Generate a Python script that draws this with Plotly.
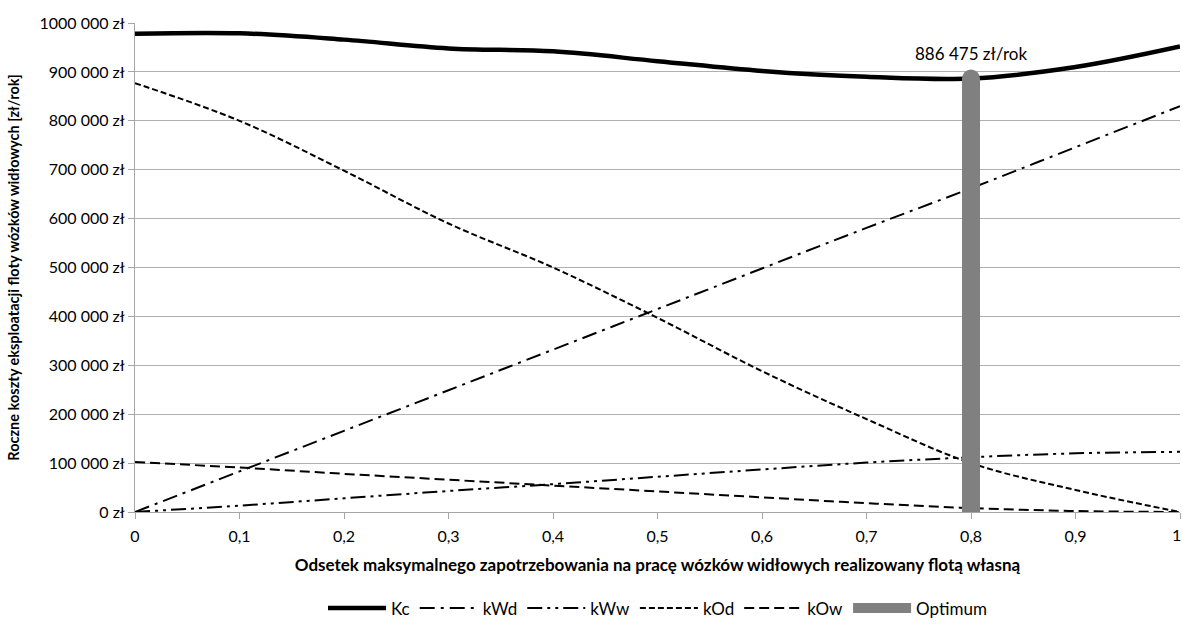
import plotly.graph_objects as go

x = [0, 0.1, 0.2, 0.3, 0.4, 0.5, 0.6, 0.7, 0.8, 0.9, 1.0]
Kc = [978000, 979000, 966000, 948000, 942000, 922000, 902000, 890000, 886475, 910000, 952000]
kWd = [0, 83000, 166000, 249000, 332000, 415000, 498000, 581000, 662000, 746000, 830000]
kWw = [0, 13000, 28000, 43000, 57000, 72000, 87000, 101000, 112000, 120000, 123000]
kOd = [877000, 800000, 698000, 590000, 500000, 397000, 288000, 190000, 100000, 45000, 0]
kOw = [102000, 91000, 78000, 66000, 54000, 42000, 30000, 18000, 8000, 2000, 0]
opt_x = [0.8, 0.8]
opt_y = [0, 886475]
opt_label = "886 475 zł/rok"

yticks = [0, 100000, 200000, 300000, 400000, 500000, 600000, 700000, 800000, 900000, 1000000]
ytext = ["0 zł", "100 000 zł", "200 000 zł", "300 000 zł", "400 000 zł", "500 000 zł",
         "600 000 zł", "700 000 zł", "800 000 zł", "900 000 zł", "1000 000 zł"]
xticks = [0, 0.1, 0.2, 0.3, 0.4, 0.5, 0.6, 0.7, 0.8, 0.9, 1.0]
xtext = ["0", "0,1", "0,2", "0,3", "0,4", "0,5", "0,6", "0,7", "0,8", "0,9", "1"]

FONT = "Lato"
fig = go.Figure()
fig.add_trace(go.Scatter(x=x, y=Kc, name="Kc", mode="lines",
                         line=dict(color="black", width=4.5, shape="spline")))
fig.add_trace(go.Scatter(x=x, y=kWd, name="kWd", mode="lines",
                         line=dict(color="black", width=2, dash="15px,6px,3px,6px", shape="spline")))
fig.add_trace(go.Scatter(x=x, y=kWw, name="kWw", mode="lines",
                         line=dict(color="black", width=2, dash="15px,5px,3px,5px,3px,5px", shape="spline")))
fig.add_trace(go.Scatter(x=x, y=kOd, name="kOd", mode="lines",
                         line=dict(color="black", width=2, dash="6px,3px", shape="spline")))
fig.add_trace(go.Scatter(x=x, y=kOw, name="kOw", mode="lines",
                         line=dict(color="black", width=2, dash="10px,5px", shape="spline")))
fig.add_trace(go.Scatter(x=opt_x, y=opt_y, name="Optimum", mode="lines",
                         line=dict(color="#808080", width=18)))
fig.add_trace(go.Scatter(x=opt_x[1:], y=opt_y[1:], mode="markers", showlegend=False, hoverinfo="skip",
                         marker=dict(color="#808080", size=18, line=dict(width=0)), cliponaxis=False))

fig.add_annotation(x=0.8, y=opt_y[1], text=opt_label, showarrow=False, yanchor="bottom", yshift=13,
                   font=dict(family=FONT, size=17, color="black"))
# last x tick label, nudged inside the page edge
fig.add_annotation(x=xticks[-1], y=0, xref="x", yref="y", text=xtext[-1], showarrow=False,
                   xanchor="center", yanchor="middle", xshift=-4, yshift=-22,
                   font=dict(family=FONT, size=16, color="black"))

fig.update_layout(
    width=1183, height=629,
    margin=dict(l=135, r=3, t=23, b=108),
    plot_bgcolor="white", paper_bgcolor="white",
    font=dict(family=FONT, size=16, color="black"),
    showlegend=True,
    legend=dict(orientation="h", x=0.5, xanchor="center", y=-0.197, yanchor="middle",
                font=dict(family=FONT, size=17), tracegroupgap=0, itemwidth=58),
    xaxis=dict(range=[0, 1], tickvals=xticks[:-1], ticktext=xtext[:-1], showgrid=False, automargin=False,
               showline=True, linecolor="#a6a6a6", linewidth=1, ticks="outside", ticklen=6,
               tickcolor="#a6a6a6", zeroline=False, tickfont=dict(size=16), ticklabelstandoff=4,
               title=dict(text="<b>Odsetek maksymalnego zapotrzebowania na pracę wózków widłowych realizowany flotą własną</b>",
                          font=dict(family=FONT, size=17), standoff=14)),
    yaxis=dict(range=[0, 1000000], tickvals=yticks, ticktext=ytext, showgrid=True, automargin=False,
               gridcolor="#b0b0b0", gridwidth=1, showline=True, linecolor="#a6a6a6",
               ticks="outside", ticklen=6, tickcolor="#a6a6a6", zeroline=False, tickfont=dict(size=16),
               title=dict(text="<b>Roczne koszty eksploatacji floty wózków widłowych [zł/rok]</b>",
                          font=dict(family=FONT, size=14.5), standoff=16)),
)
# tick mark at x = 1 (label drawn as annotation above)
fig.update_xaxes(minor=dict(tickvals=[xticks[-1]], ticks="outside", ticklen=6, tickcolor="#a6a6a6"))
fig.write_html("out.html", config={"displayModeBar": False},
               post_script="document.body.style.margin='0';document.body.style.overflow='hidden';")
